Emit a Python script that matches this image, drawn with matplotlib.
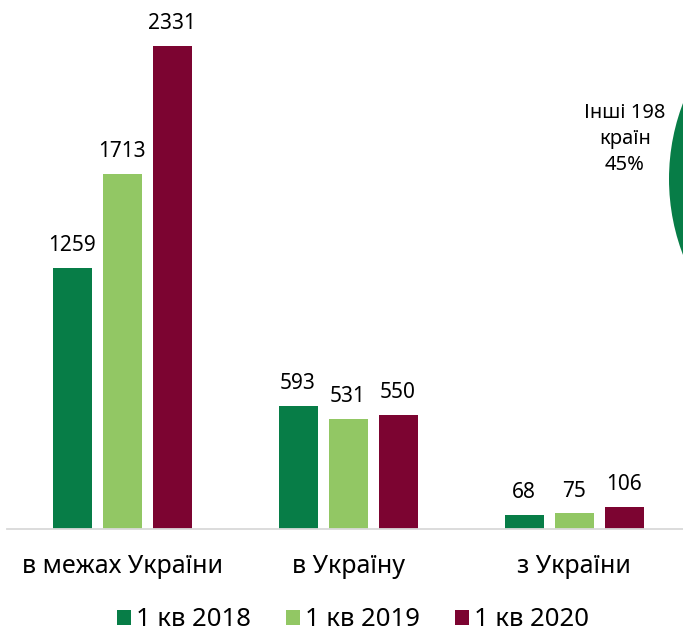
import matplotlib
matplotlib.use("Agg")
import matplotlib.pyplot as plt
from matplotlib.patches import Patch, Circle
import numpy as np

plt.rcParams['font.family'] = ['Noto Sans', 'DejaVu Sans']

categories = ["в межах України", "в Україну", "з України"]
series_names = ["1 кв 2018", "1 кв 2019", "1 кв 2020"]
v2018 = [1259, 593, 68]
v2019 = [1713, 531, 75]
v2020 = [2331, 550, 106]
values = [v2018, v2019, v2020]
colors = ["#077D47", "#92C764", "#7C0431"]

pie_label = "Інші 198\nкраїн\n45%"

W, H = 683, 634
fig = plt.figure(figsize=(W / 100, H / 100), dpi=100)

# axes: left edge at px 7, baseline at px 529 from top
ax_left, ax_right = 7, 683
base_y, top_y = 529, 20
ax = fig.add_axes([ax_left / W, (H - base_y) / H, (ax_right - ax_left) / W, (base_y - top_y) / H])

px_per_unit = 226.0
x0_px = 122.0
ax.set_xlim((ax_left - x0_px) / px_per_unit, (ax_right - x0_px) / px_per_unit)
px_per_val = 483.0 / 2331.0
ax.set_ylim(0, (base_y - top_y) / px_per_val)

x = np.arange(len(categories))
width = 39 / px_per_unit
offset = 50 / px_per_unit
for i, (vals, c, name) in enumerate(zip(values, colors, series_names)):
    pos = x + (i - 1) * offset
    ax.bar(pos, vals, width=width, color=c, label=name, zorder=2)
    for p, v in zip(pos, vals):
        ax.annotate(f"{v}", (p, v), xytext=(0, 12), textcoords="offset points",
                    ha="center", va="baseline", fontsize=15, color="#000000")

for s in ["top", "right", "left"]:
    ax.spines[s].set_visible(False)
ax.spines["bottom"].set_color("#D9D9D9")
ax.spines["bottom"].set_linewidth(1.3)
ax.set_yticks([])
ax.set_xticks(x)
ax.set_xticklabels(categories, fontsize=18)
ax.tick_params(axis="x", length=0, pad=18)

handles = [Patch(facecolor=c, edgecolor="none") for c in colors]
fig.legend(handles, series_names, loc="center", bbox_to_anchor=(353 / W, (H - 620) / H),
           ncol=3, frameon=False, fontsize=18.5, handlelength=0.55, handleheight=0.55,
           handletextpad=0.2, columnspacing=1.35, borderpad=0)

# partial pie visible at right edge
circ = Circle((882, H - 179), 213, transform=None, facecolor="#077D47", edgecolor="none")
fig.patches.append(circ)
fig.text(625 / W, (H - 139) / H, pie_label, ha="center", va="center", fontsize=14.5,
         linespacing=1.4, color="#000000")

fig.savefig("out.png", dpi=100)
